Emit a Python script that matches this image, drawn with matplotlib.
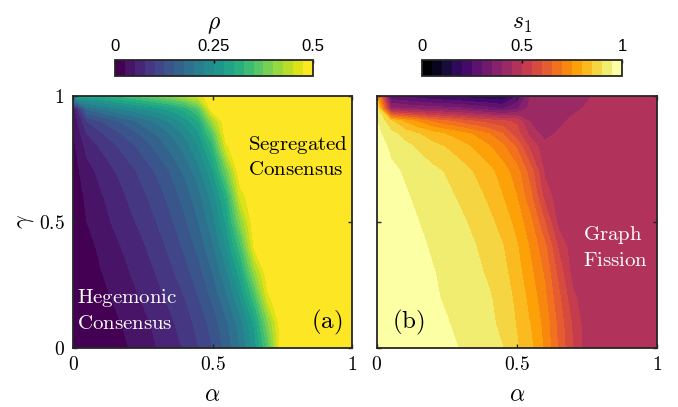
import matplotlib
matplotlib.use("Agg")
import matplotlib.pyplot as plt
import numpy as np

plt.rcParams['mathtext.fontset'] = 'cm'
plt.rcParams['font.family'] = 'DejaVu Serif'

# grid of the simulation (alpha columns, gamma rows)
alpha = [0, .05, .1, .15, .2, .25, .3, .35, .4, .45, .5, .55, .6, .65, .7, .75, .8, 1.0]
gamma = [0, .1, .2, .3, .4, .5, .6, .7, .8, .85, .9, .95, 1.0]

# rho(alpha, gamma), one list per gamma row
rho_g000 = [0, .003, .008, .015, .025, .038, .05, .063, .078, .1, .125, .16, .2, .26, .36, .5, .5, .5]
rho_g010 = [0, .005, .012, .02, .031, .043, .056, .07, .088, .108, .135, .17, .215, .28, .4, .5, .5, .5]
rho_g020 = [0, .007, .017, .028, .04, .053, .066, .082, .1, .125, .155, .195, .25, .34, .47, .5, .5, .5]
rho_g030 = [0, .01, .024, .036, .049, .062, .077, .094, .115, .14, .175, .22, .29, .41, .5, .5, .5, .5]
rho_g040 = [.002, .016, .03, .044, .057, .071, .088, .107, .13, .158, .195, .25, .34, .48, .5, .5, .5, .5]
rho_g050 = [.004, .025, .04, .054, .068, .083, .1, .12, .145, .175, .215, .28, .4, .5, .5, .5, .5, .5]
rho_g060 = [.008, .03, .047, .062, .078, .094, .112, .134, .16, .19, .235, .31, .46, .5, .5, .5, .5, .5]
rho_g070 = [.012, .04, .057, .074, .09, .108, .128, .152, .18, .215, .27, .38, .5, .5, .5, .5, .5, .5]
rho_g080 = [.018, .058, .078, .096, .115, .135, .157, .182, .21, .25, .32, .47, .5, .5, .5, .5, .5, .5]
rho_g085 = [.022, .075, .095, .115, .135, .155, .177, .2, .23, .27, .36, .5, .5, .5, .5, .5, .5, .5]
rho_g090 = [.026, .1, .125, .145, .165, .185, .205, .23, .26, .3, .42, .5, .5, .5, .5, .5, .5, .5]
rho_g095 = [.03, .18, .2, .22, .235, .25, .265, .285, .31, .36, .5, .5, .5, .5, .5, .5, .5, .5]
rho_g100 = [.28, .29, .3, .32, .34, .36, .38, .4, .43, .46, .5, .5, .5, .5, .5, .5, .5, .5]

# s1(alpha, gamma), one list per gamma row
s1_g000 = [1.0, .99, .985, .975, .965, .958, .948, .935, .918, .9, .855, .81, .74, .64, .55, .47, .47, .47]
s1_g010 = [1.0, .99, .98, .97, .96, .952, .94, .925, .91, .888, .845, .795, .73, .63, .54, .47, .47, .47]
s1_g020 = [1.0, .985, .975, .965, .955, .945, .932, .918, .905, .88, .835, .78, .71, .61, .51, .47, .47, .47]
s1_g030 = [1.0, .985, .975, .963, .952, .94, .927, .912, .892, .865, .82, .76, .69, .58, .48, .47, .47, .47]
s1_g040 = [1.0, .98, .97, .958, .945, .932, .918, .902, .88, .852, .805, .74, .66, .54, .47, .47, .47, .47]
s1_g050 = [.995, .975, .962, .95, .937, .924, .908, .888, .862, .83, .78, .71, .6, .48, .47, .47, .47, .47]
s1_g060 = [.99, .97, .955, .94, .925, .91, .892, .868, .84, .8, .75, .66, .53, .47, .47, .47, .47, .47]
s1_g070 = [.985, .96, .945, .93, .912, .895, .872, .845, .815, .775, .72, .62, .49, .47, .47, .47, .47, .47]
s1_g080 = [.975, .94, .915, .89, .865, .845, .82, .79, .755, .71, .64, .53, .47, .47, .47, .47, .47, .47]
s1_g085 = [.965, .915, .88, .85, .82, .795, .77, .74, .7, .65, .57, .48, .43, .46, .47, .47, .47, .47]
s1_g090 = [.95, .86, .79, .74, .69, .66, .63, .6, .58, .56, .54, .44, .42, .43, .47, .47, .47, .47]
s1_g095 = [.92, .42, .4, .39, .38, .37, .36, .34, .32, .3, .34, .42, .42, .42, .43, .46, .47, .47]
s1_g100 = [.78, .26, .24, .22, .2, .19, .18, .17, .16, .15, .25, .41, .42, .42, .42, .44, .47, .47]

rho = np.array([rho_g000, rho_g010, rho_g020, rho_g030, rho_g040, rho_g050, rho_g060,
                rho_g070, rho_g080, rho_g085, rho_g090, rho_g095, rho_g100])
s1 = np.array([s1_g000, s1_g010, s1_g020, s1_g030, s1_g040, s1_g050, s1_g060,
               s1_g070, s1_g080, s1_g085, s1_g090, s1_g095, s1_g100])

ticks = [0, 0.5, 1]
ticklabels = ['$0$', '$0.5$', '$1$']
edge = '#262626'
nlev = 20

# matlab-style: the bands span the whole colormap, ends included
def band_colors(name):
    cmap = plt.get_cmap(name)
    return [cmap(v) for v in np.linspace(0, 1, nlev)]

fig = plt.figure(figsize=(6.78, 4.07), dpi=100)
ax1 = fig.add_axes([0.1077, 0.145, 0.4115, 0.619])
ax2 = fig.add_axes([0.556, 0.145, 0.413, 0.619])
cax1 = fig.add_axes([0.1696, 0.8133, 0.292, 0.0393])
cax2 = fig.add_axes([0.6224, 0.8133, 0.295, 0.0393])

cs1 = ax1.contourf(alpha, gamma, rho, levels=np.linspace(0, 0.5, nlev + 1),
                   colors=band_colors('viridis'))
cs2 = ax2.contourf(alpha, gamma, s1, levels=np.linspace(0, 1, nlev + 1),
                   colors=band_colors('inferno'))

for ax in (ax1, ax2):
    ax.set_xlim(0, 1)
    ax.set_ylim(0, 1)
    ax.set_xticks(ticks)
    ax.set_xticklabels(ticklabels, fontsize=14)
    ax.set_yticks(ticks)
    ax.tick_params(direction='in', top=True, right=True, length=3, width=1,
                   color=edge, pad=6)
    for sp in ax.spines.values():
        sp.set_linewidth(1.3)
        sp.set_color(edge)
    ax.set_xlabel(r'$\alpha$', fontsize=17, labelpad=6)

ax1.set_yticklabels(ticklabels, fontsize=14)
ax2.set_yticklabels([])
ax1.set_ylabel(r'$\gamma$', fontsize=17, labelpad=2)

# region labels
ax1.text(0.627, 0.76, r'$\mathrm{Segregated}$' + '\n' + r'$\mathrm{Consensus}$',
         ha='left', va='center', fontsize=15, color='black', linespacing=1.3)
ax1.text(0.015, 0.15, r'$\mathrm{Hegemonic}$' + '\n' + r'$\mathrm{Consensus}$',
         ha='left', va='center', fontsize=15, color='white', linespacing=1.3)
ax1.text(0.91, 0.10, r'$\mathrm{(a)}$', ha='center', va='center', fontsize=18)
ax2.text(0.736, 0.40, r'$\mathrm{Graph}$' + '\n' + r'$\mathrm{Fission}$',
         ha='left', va='center', fontsize=15, color='white', linespacing=1.3)
ax2.text(0.114, 0.10, r'$\mathrm{(b)}$', ha='center', va='center', fontsize=18)

# colorbars on top
for cs, cax, cticks, clabels, title in (
        (cs1, cax1, [0, 0.25, 0.5], ['0', '0.25', '0.5'], r'$\rho$'),
        (cs2, cax2, [0, 0.5, 1], ['0', '0.5', '1'], r'$s_1$')):
    cb = fig.colorbar(cs, cax=cax, orientation='horizontal')
    cb.set_ticks(cticks)
    cb.ax.xaxis.set_ticks_position('top')
    cb.ax.set_xticklabels(clabels, fontsize=12, family='Liberation Sans')
    cb.ax.tick_params(direction='in', length=2, width=1, pad=4, color='black')
    cb.outline.set_linewidth(1.3)
    cb.outline.set_edgecolor(edge)
    cb.ax.set_title(title, fontsize=17, pad=22)

fig.savefig('out.png', dpi=100)
